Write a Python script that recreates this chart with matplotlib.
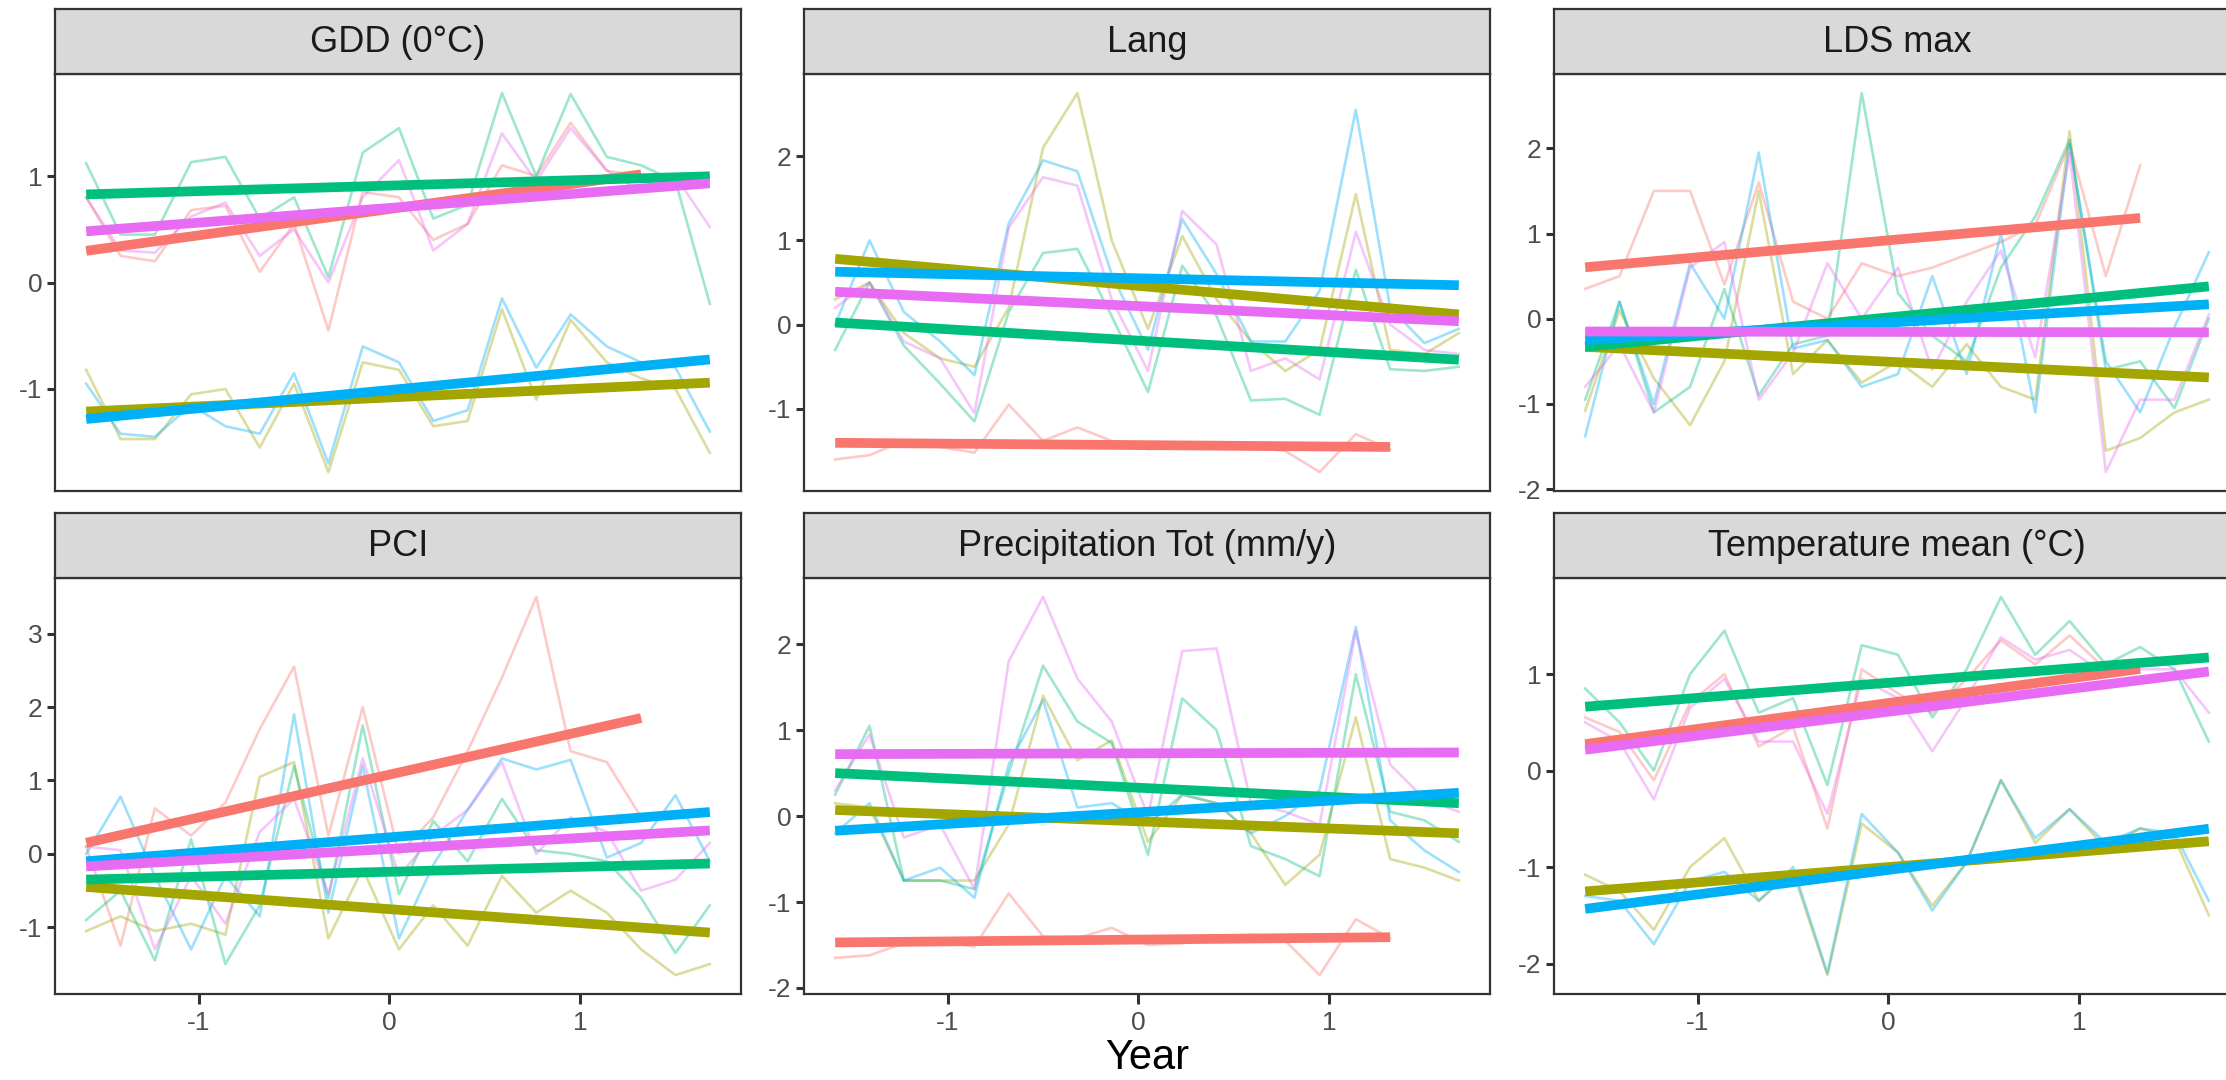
import matplotlib
matplotlib.use("Agg")
import matplotlib.pyplot as plt
from matplotlib.ticker import MultipleLocator

plt.rcParams['font.family'] = ['Liberation Sans', 'DejaVu Sans']
plt.rcParams['axes.unicode_minus'] = False

# scaled year (x axis), 19 years; the first group has only 17
years_scaled = [-1.59, -1.41, -1.23, -1.04, -0.86, -0.68, -0.50, -0.32, -0.14, 0.05,
                0.23, 0.41, 0.59, 0.77, 0.95, 1.14, 1.32, 1.50, 1.68]

group_colors = ["#F8766D", "#A3A500", "#00BF7D", "#00B0F6", "#E76BF3"]

panel_titles = ["GDD (0°C)", "Lang", "LDS max",
                "PCI", "Precipitation Tot (mm/y)", "Temperature mean (°C)"]

# standardized values per panel, groups in colour order
gdd = [
    [0.80, 0.25, 0.20, 0.68, 0.72, 0.10, 0.55, -0.45, 0.85, 0.80, 0.40, 0.55, 1.10, 1.00, 1.50, 1.05, 1.00],
    [-0.82, -1.47, -1.47, -1.05, -1.00, -1.55, -0.95, -1.78, -0.75, -0.82, -1.35, -1.30, -0.25, -1.10, -0.35, -0.75, -0.90, -1.00, -1.60],
    [1.12, 0.45, 0.45, 1.13, 1.18, 0.60, 0.80, 0.05, 1.22, 1.45, 0.60, 0.73, 1.78, 1.00, 1.77, 1.18, 1.10, 0.95, -0.20],
    [-0.95, -1.42, -1.45, -1.15, -1.35, -1.42, -0.85, -1.70, -0.60, -0.75, -1.30, -1.20, -0.15, -0.80, -0.30, -0.60, -0.75, -0.80, -1.40],
    [0.80, 0.30, 0.28, 0.62, 0.75, 0.25, 0.50, 0.00, 0.80, 1.15, 0.30, 0.55, 1.40, 0.95, 1.45, 1.05, 0.85, 1.00, 0.52],
]
lang = [
    [-1.60, -1.55, -1.38, -1.45, -1.52, -0.95, -1.38, -1.22, -1.38, -1.48, -1.45, -1.42, -1.45, -1.50, -1.75, -1.30, -1.48],
    [0.30, 0.50, -0.10, -0.40, -0.50, 0.20, 2.10, 2.75, 1.00, -0.05, 1.05, 0.30, -0.20, -0.55, -0.30, 1.55, -0.30, -0.35, -0.10],
    [-0.30, 0.50, -0.25, -0.70, -1.15, 0.15, 0.85, 0.90, 0.10, -0.80, 0.70, 0.10, -0.90, -0.88, -1.07, 0.65, -0.53, -0.55, -0.50],
    [0.00, 1.00, 0.15, -0.20, -0.60, 1.20, 1.95, 1.82, 0.60, -0.30, 1.25, 0.60, -0.20, -0.20, 0.40, 2.55, 0.20, -0.22, -0.05],
    [0.20, 0.50, -0.20, -0.40, -1.05, 1.15, 1.75, 1.65, 0.30, -0.55, 1.35, 0.95, -0.55, -0.40, -0.65, 1.10, 0.00, -0.30, -0.35],
]
lds = [
    [0.35, 0.50, 1.50, 1.50, 0.40, 1.60, 0.20, 0.00, 0.65, 0.50, 0.60, 0.75, 0.90, 1.10, 2.05, 0.50, 1.80],
    [-1.08, 0.10, -0.70, -1.25, -0.50, 1.50, -0.65, -0.25, -0.75, -0.50, -0.80, -0.30, -0.80, -0.95, 2.20, -1.55, -1.40, -1.10, -0.95],
    [-0.95, 0.20, -1.10, -0.80, 0.35, -0.90, -0.30, -0.20, 2.65, 0.30, -0.20, -0.50, 0.60, 1.20, 2.10, -0.60, -0.50, -1.05, 0.00],
    [-1.38, 0.20, -1.00, 0.65, 0.00, 1.95, -0.35, -0.25, -0.80, -0.65, 0.50, -0.65, 1.00, -1.10, 2.05, -0.50, -1.10, -0.10, 0.78],
    [-0.80, -0.30, -1.10, 0.60, 0.90, -0.95, -0.40, 0.65, 0.00, 0.60, -0.60, 0.20, 0.80, -0.45, 1.95, -1.80, -0.95, -0.95, 0.05],
]
pci = [
    [0.10, -1.25, 0.62, 0.25, 0.70, 1.70, 2.55, 0.25, 2.00, 0.00, 0.50, 1.40, 2.40, 3.50, 1.40, 1.25, 0.50],
    [-1.05, -0.85, -1.05, -0.95, -1.10, 1.05, 1.25, -1.15, -0.20, -1.30, -0.70, -1.25, -0.30, -0.80, -0.50, -0.80, -1.30, -1.65, -1.50],
    [-0.90, -0.50, -1.45, 0.20, -1.50, -0.70, 1.20, -0.60, 1.75, -0.55, 0.45, -0.10, 0.75, 0.05, 0.00, -0.10, -0.60, -1.35, -0.70],
    [0.00, 0.78, -0.30, -1.30, -0.30, -0.85, 1.90, -0.80, 1.20, -1.15, -0.15, 0.60, 1.30, 1.15, 1.28, -0.05, 0.15, 0.80, -0.10],
    [0.10, 0.05, -1.30, -0.30, -0.95, 0.30, 0.75, -0.55, 1.30, -0.30, 0.25, 0.60, 1.25, 0.00, 0.50, 0.30, -0.50, -0.35, 0.15],
]
precip = [
    [-1.65, -1.62, -1.48, -1.45, -1.52, -0.90, -1.40, -1.42, -1.30, -1.50, -1.48, -1.42, -1.38, -1.45, -1.85, -1.20, -1.42],
    [0.15, 0.10, -0.75, -0.75, -0.75, -0.10, 1.40, 0.65, 0.88, -0.30, 0.25, 0.15, -0.20, -0.80, -0.45, 1.15, -0.50, -0.60, -0.75],
    [0.25, 1.05, -0.75, -0.75, -0.85, 0.50, 1.75, 1.10, 0.85, -0.45, 1.37, 1.00, -0.35, -0.50, -0.70, 1.65, 0.05, -0.05, -0.30],
    [-0.20, 0.15, -0.75, -0.60, -0.95, 0.60, 1.35, 0.10, 0.15, -0.10, 0.25, 0.15, -0.20, 0.00, 0.30, 2.20, -0.05, -0.40, -0.65],
    [0.30, 0.95, -0.25, -0.10, -0.85, 1.80, 2.55, 1.60, 1.10, 0.00, 1.92, 1.95, 0.15, 0.05, -0.10, 2.15, 0.60, 0.20, 0.05],
]
temp = [
    [0.55, 0.40, -0.10, 0.70, 1.00, 0.25, 0.45, -0.60, 1.05, 0.80, 0.60, 0.95, 1.35, 1.10, 1.40, 1.05, 1.10],
    [-1.08, -1.25, -1.65, -1.00, -0.70, -1.35, -1.05, -2.12, -0.55, -0.85, -1.40, -0.95, -0.10, -0.75, -0.40, -0.80, -0.60, -0.70, -1.50],
    [0.85, 0.50, 0.00, 1.00, 1.45, 0.60, 0.75, -0.15, 1.30, 1.20, 0.55, 1.05, 1.80, 1.20, 1.55, 1.10, 1.28, 1.05, 0.30],
    [-1.30, -1.35, -1.80, -1.15, -1.05, -1.35, -1.00, -2.10, -0.45, -0.85, -1.45, -0.95, -0.10, -0.70, -0.40, -0.75, -0.60, -0.65, -1.35],
    [0.50, 0.30, -0.30, 0.65, 0.95, 0.30, 0.30, -0.45, 0.95, 0.75, 0.20, 0.75, 1.38, 1.15, 1.25, 1.00, 1.05, 1.05, 0.60],
]

# linear trends (intercept, slope) per group
gdd_fit = [(0.69, 0.247), (-1.08, 0.083), (0.91, 0.052), (-1.01, 0.171), (0.70, 0.138)]
lang_fit = [(-1.43, -0.017), (0.46, -0.202), (-0.19, -0.135), (0.55, -0.049), (0.22, -0.107)]
lds_fit = [(0.92, 0.199), (-0.505, -0.110), (0.015, 0.217), (-0.046, 0.128), (-0.155, -0.003)]
pci_fit = [(1.08, 0.584), (-0.752, -0.190), (-0.243, 0.067), (0.226, 0.205), (0.068, 0.150)]
precip_fit = [(-1.437, 0.021), (-0.061, -0.083), (0.33, -0.107), (0.044, 0.135), (0.73, 0.006)]
temp_fit = [(0.70, 0.268), (-1.0, 0.159), (0.91, 0.156), (-1.03, 0.254), (0.61, 0.248)]

panel_data = [gdd, lang, lds, pci, precip, temp]
panel_fits = [gdd_fit, lang_fit, lds_fit, pci_fit, precip_fit, temp_fit]

W, H = 2226, 1080
fig = plt.figure(figsize=(W / 100, H / 100), dpi=100)
fig.patch.set_facecolor("white")

col_left = [55, 804, 1554]
panel_w = 686
rows = [(9, 74, 491), (513, 578, 994)]  # strip top, panel top, panel bottom
border = "#333333"


def frac(x, y_top, w, h):
    return [x / W, 1 - (y_top + h) / H, w / W, h / H]


for i, (title, data, fits) in enumerate(zip(panel_titles, panel_data, panel_fits)):
    r, c = divmod(i, 3)
    s_top, p_top, p_bot = rows[r]
    x0 = col_left[c]

    ax = fig.add_axes(frac(x0, p_top, panel_w, p_bot - p_top))
    for vals, col in zip(data, group_colors):
        ax.plot(years_scaled[:len(vals)], vals, color=col, alpha=0.38, lw=1.9, zorder=2)
    for vals, (b0, b1), col in zip(data, fits, group_colors):
        xs = [years_scaled[0], years_scaled[len(vals) - 1]]
        ax.plot(xs, [b0 + b1 * x for x in xs], color=col, lw=7,
                solid_capstyle="butt", zorder=3)

    ax.margins(x=0.05, y=0.05)
    ax.yaxis.set_major_locator(MultipleLocator(1))
    ax.tick_params(axis="y", length=6, width=2.2, color=border, labelsize=19,
                   labelcolor="#4D4D4D", pad=3)
    if r == 1:
        ax.set_xticks([-1, 0, 1])
        ax.tick_params(axis="x", length=7, width=2.2, color=border, labelsize=19,
                       labelcolor="#4D4D4D", pad=5)
    else:
        ax.set_xticks([])
    for sp in ax.spines.values():
        sp.set_color(border)
        sp.set_linewidth(1.6)

    # facet strip
    sax = fig.add_axes(frac(x0, s_top, panel_w, p_top - s_top))
    sax.set_facecolor("#D9D9D9")
    sax.set_xticks([])
    sax.set_yticks([])
    for sp in sax.spines.values():
        sp.set_color(border)
        sp.set_linewidth(1.6)
    sax.text(0.5, 0.48, title, ha="center", va="center", fontsize=26,
             color="#1A1A1A", transform=sax.transAxes)

fig.text(1147 / W, 1 - 1058 / H, "Year", ha="center", va="center", fontsize=30, color="black")

fig.savefig("out.png", dpi=100)
